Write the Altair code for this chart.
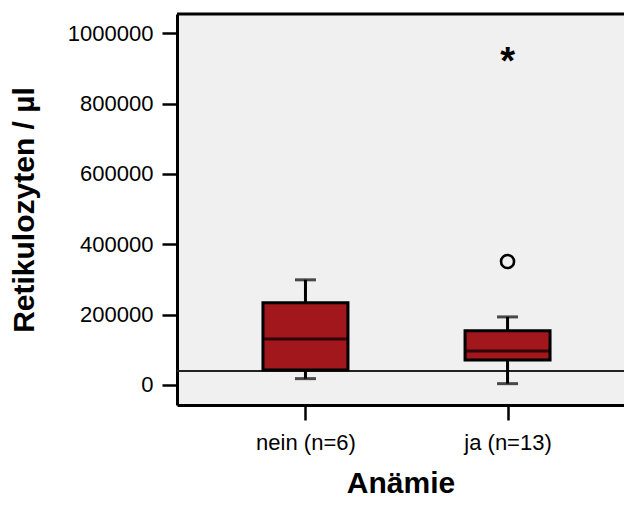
import altair as alt
import pandas as pd

# data
groups = ["nein (n=6)", "ja (n=13)"]
pos = [1, 2]
q1 = [42700, 71000]
median = [131000, 96700]
q3 = [234000, 154500]
whisk_lo = [18000, 3700]
whisk_hi = [299000, 193500]
outlier_circle = [{"g": 2, "v": 351000}]
outlier_star = [{"g": 2, "v": 932000}]
ref_value = 40000
y_ticks = [0, 200000, 400000, 600000, 800000, 1000000]

df = pd.DataFrame({"g": pos, "name": groups, "q1": q1, "med": median, "q3": q3,
                   "lo": whisk_lo, "hi": whisk_hi})
circ = pd.DataFrame(outlier_circle)
star = pd.DataFrame(outlier_star)
ref = pd.DataFrame({"v": [ref_value]})

W, H = 447, 391
FONT = "Arial, Liberation Sans, sans-serif"

xs = alt.Scale(domain=[0.389, 0.389 + W / 206.7], nice=False, zero=False)
ys = alt.Scale(domain=[-57000, 1055000], nice=False, zero=False)

label_expr = "datum.value == 1 ? '%s' : '%s'" % (groups[0], groups[1])

X = alt.X("g:Q", scale=xs, axis=alt.Axis(
    values=pos, labelExpr=label_expr, title="Anämie", grid=False,
    tickSize=15, tickWidth=2.5, tickColor="black", domainWidth=3, domainColor="black",
    labelFontSize=22, labelFont=FONT, labelColor="black", labelPadding=12,
    titleFontSize=30, titleFont=FONT, titleFontWeight="bold", titleColor="black",
    titleBaseline="alphabetic", titleY=87))
Y = alt.Y("lo:Q", scale=ys, axis=alt.Axis(
    values=y_ticks, format="d", title="Retikulozyten / µl", grid=False,
    tickSize=15, tickWidth=2.5, tickColor="black", domainWidth=3, domainColor="black",
    labelFontSize=22, labelFont=FONT, labelColor="black", labelPadding=9,
    titleFontSize=30, titleFont=FONT, titleFontWeight="bold", titleColor="black",
    titlePadding=28))

base = alt.Chart(df)

refline = alt.Chart(ref).mark_rule(color="#222222", strokeWidth=2).encode(
    y=alt.Y("v:Q", scale=ys))
w_lo = base.mark_rule(color="black", strokeWidth=3).encode(x=X, y=Y, y2="q1:Q")
w_hi = base.mark_rule(color="black", strokeWidth=3).encode(
    x=alt.X("g:Q", scale=xs), y=alt.Y("q3:Q", scale=ys), y2="hi:Q")
cap_lo = base.mark_tick(color="black", orient="horizontal", size=21, thickness=3).encode(
    x=alt.X("g:Q", scale=xs), y=alt.Y("lo:Q", scale=ys))
cap_hi = base.mark_tick(color="black", orient="horizontal", size=21, thickness=3).encode(
    x=alt.X("g:Q", scale=xs), y=alt.Y("hi:Q", scale=ys))
box = base.mark_bar(size=85, fill="#a1171b", stroke="black", strokeWidth=3).encode(
    x=alt.X("g:Q", scale=xs), y=alt.Y("q1:Q", scale=ys), y2="q3:Q")
med = base.mark_tick(color="black", orient="horizontal", size=85, thickness=3).encode(
    x=alt.X("g:Q", scale=xs), y=alt.Y("med:Q", scale=ys))
circle = alt.Chart(circ).mark_point(shape="circle", filled=False, size=170,
                                    strokeWidth=2.6, color="black", opacity=1).encode(
    x=alt.X("g:Q", scale=xs), y=alt.Y("v:Q", scale=ys))
asterisk = alt.Chart(star).mark_text(text="*", fontSize=38, fontWeight="bold", font=FONT,
                                     color="black", baseline="alphabetic", dy=17).encode(
    x=alt.X("g:Q", scale=xs), y=alt.Y("v:Q", scale=ys))
top = alt.Chart(ref).mark_rule(color="black", strokeWidth=3).encode(
    x=alt.value(0), x2=alt.value(W), y=alt.value(0))

chart = alt.layer(refline, w_lo, w_hi, cap_lo, cap_hi, box, med, circle, asterisk, top).properties(
    width=W, height=H,
    autosize=alt.AutoSizeParams(type="none"),
    padding={"left": 169, "top": 6, "right": 0, "bottom": 94},
    background="white",
).configure_view(fill="#f0f0f0", stroke=None)

chart.save("out.html", embed_options={"renderer": "svg", "actions": False})
